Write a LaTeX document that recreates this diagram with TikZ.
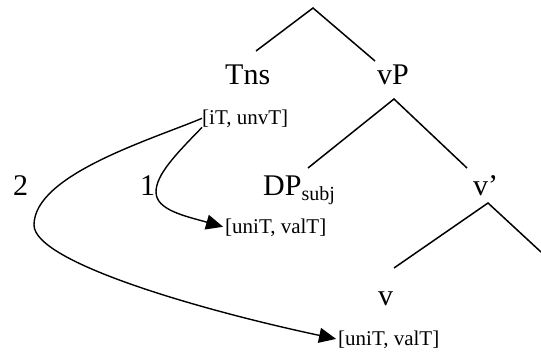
\documentclass[tikz,border=0pt]{standalone}
\usepackage{fontspec}
\setmainfont{Liberation Serif}
\usetikzlibrary{arrows.meta}

\begin{document}
\begin{tikzpicture}[
    x=1pt, y=-1pt,
    cat/.style={anchor=base west, inner sep=0pt, font=\fontsize{30}{34}\selectfont},
    feat/.style={anchor=base west, inner sep=0pt, font=\fontsize{21}{25}\selectfont},
    branch/.style={line width=1.5pt},
    agree/.style={line width=1.4pt, shorten >=2pt, -{Triangle[length=17pt, width=15pt]}}
]
    \useasboundingbox (0,0) rectangle (541,356);

    % Categories
    \node[cat] (tns) at (225,84) {Tns};
    \node[cat] (vp) at (377,84) {vP};
    \node[cat] (dp) at (263,195) {DP\raisebox{-5pt}{\fontsize{20}{24}\selectfont subj}};
    \node[cat] (vbar) at (473,195) {v’};
    \node[cat] (v) at (378,305) {v};

    % Features
    \node[feat] (ifeat) at (202,124) {[iT, unvT]};
    \node[feat] (ufeat1) at (225,233) {[uniT, valT]};
    \node[feat] (ufeat2) at (338,345) {[uniT, valT]};

    % Step numbers
    \node[cat] (num2) at (13,195) {2};
    \node[cat] (num1) at (140,195) {1};

    % Branching points
    \coordinate (top) at (313,8);
    \coordinate (top-l) at (256,51);
    \coordinate (top-r) at (375,61);
    \coordinate (vp-top) at (394,99);
    \coordinate (vp-l) at (308,168);
    \coordinate (vp-r) at (467,168);
    \coordinate (vbar-top) at (488,203);
    \coordinate (vbar-l) at (394,268);
    \coordinate (vbar-r) at (541,252);

    % Tree
    \draw[branch] (top-l) -- (top) -- (top-r);
    \draw[branch] (vp-l) -- (vp-top) -- (vp-r);
    \draw[branch] (vbar-l) -- (vbar-top) -- (vbar-r);

    % Agree
    \draw[agree] (ifeat.south west) .. controls (175,155) and (156,175) .. (156,192)
        .. controls (156,210) and (185,216) .. (ufeat1.west);
    \draw[agree] (ifeat.west) .. controls (150,140) and (34,175) .. (34,225)
        .. controls (34,262) and (200,310) .. (ufeat2.west);
\end{tikzpicture}
\end{document}
